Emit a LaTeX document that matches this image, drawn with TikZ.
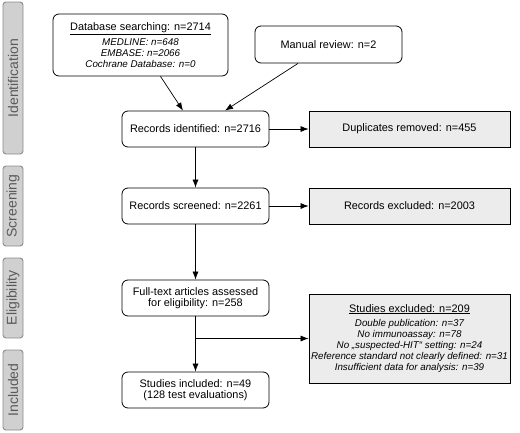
\documentclass[tikz,border=0pt]{standalone}
\usepackage{fontspec}
\setmainfont{Liberation Sans}
\usetikzlibrary{arrows.meta,calc}
\definecolor{sidefill}{HTML}{D0D0D0}
\definecolor{sidedraw}{HTML}{8A8A8A}
\definecolor{sidetext}{HTML}{5A5A5A}
\definecolor{exfill}{HTML}{ECECEC}
\newcommand{\mainsz}{\fontsize{10.9}{11.5}\selectfont}
\newcommand{\subsz}{\fontsize{9.8}{11.6}\selectfont\itshape}
\begin{document}
\begin{tikzpicture}[x=1pt,y=-1pt,
  side/.style={draw=sidedraw,fill=sidefill,rounded corners=3pt,line width=0.9pt,rotate=90,
    minimum height=20pt,inner sep=0pt,text=sidetext,font=\fontsize{14}{14}\selectfont},
  rbox/.style={draw,rounded corners=6pt,line width=0.8pt,minimum width=147pt,minimum height=36pt,
    inner sep=0pt,align=center,font=\mainsz},
  gbox/.style={draw,fill=exfill,line width=0.8pt,minimum width=201pt,minimum height=36pt,
    inner sep=0pt,align=center,font=\mainsz},
  arr/.style={-{Latex[length=8pt,width=6pt]},line width=0.7pt}]
\useasboundingbox (0,0) rectangle (520,432);
% side labels
\node[side,minimum width=152pt] (sid) at (13,78) {Identification};
\node[side,minimum width=80pt] (ssc) at (13,206) {Screening};
\node[side,minimum width=80pt] (sel) at (13,298) {Eligibility};
\node[side,minimum width=80pt] (sin) at (13,390) {Included};
% boxes
\node[rbox,minimum width=175pt,minimum height=62pt] (db) at (140.5,45)
  {\underline{Database searching: n=2714}\\[3pt]
   {\subsz MEDLINE: n=648}\\[-0.5pt]
   {\subsz EMBASE: n=2066}\\[-0.5pt]
   {\subsz Cochrane Database: n=0}};
\node[rbox,minimum height=37pt] (mr) at (328.5,44.5) {Manual review: n=2};
\node[rbox] (ri) at (195.5,129) {Records identified: n=2716};
\node[gbox] (dup) at (409.5,129) {Duplicates removed: n=455};
\node[rbox] (rs) at (195.5,206) {Records screened: n=2261};
\node[gbox] (rex) at (409.5,206) {Records excluded: n=2003};
\node[rbox] (ft) at (195.5,298) {Full-text articles assessed\\[-0.5pt]for eligibility: n=258};
\node[gbox,minimum height=89pt] (se) at (409.5,338.5)
  {\underline{Studies excluded: n=209}\\[3pt]
   {\subsz Double publication: n=37}\\[-0.5pt]
   {\subsz No immunoassay: n=78}\\[-0.5pt]
   {\subsz No „suspected-HIT“ setting: n=24}\\[-0.5pt]
   {\subsz Reference standard not clearly defined: n=31}\\[-0.5pt]
   {\subsz Insufficient data for analysis: n=39}};
\node[rbox] (si) at (195.5,390) {Studies included: n=49\\[-0.5pt](128 test evaluations)};
% connectors
\draw[arr] ([xshift=20pt]db.south) -- ([xshift=-12.5pt]ri.north);
\draw[arr] ([xshift=-30.5pt]mr.south) -- ([xshift=29.5pt]ri.north);
\draw[arr] (ri.east) -- (dup.west);
\draw[arr] (ri.south) -- (rs.north);
\draw[arr] (rs.east) -- (rex.west);
\draw[arr] (rs.south) -- (ft.north);
\draw[arr] (ft.south) -- (si.north);
\draw[arr] (ft.south |- se.west) -- (se.west);
\end{tikzpicture}
\end{document}
